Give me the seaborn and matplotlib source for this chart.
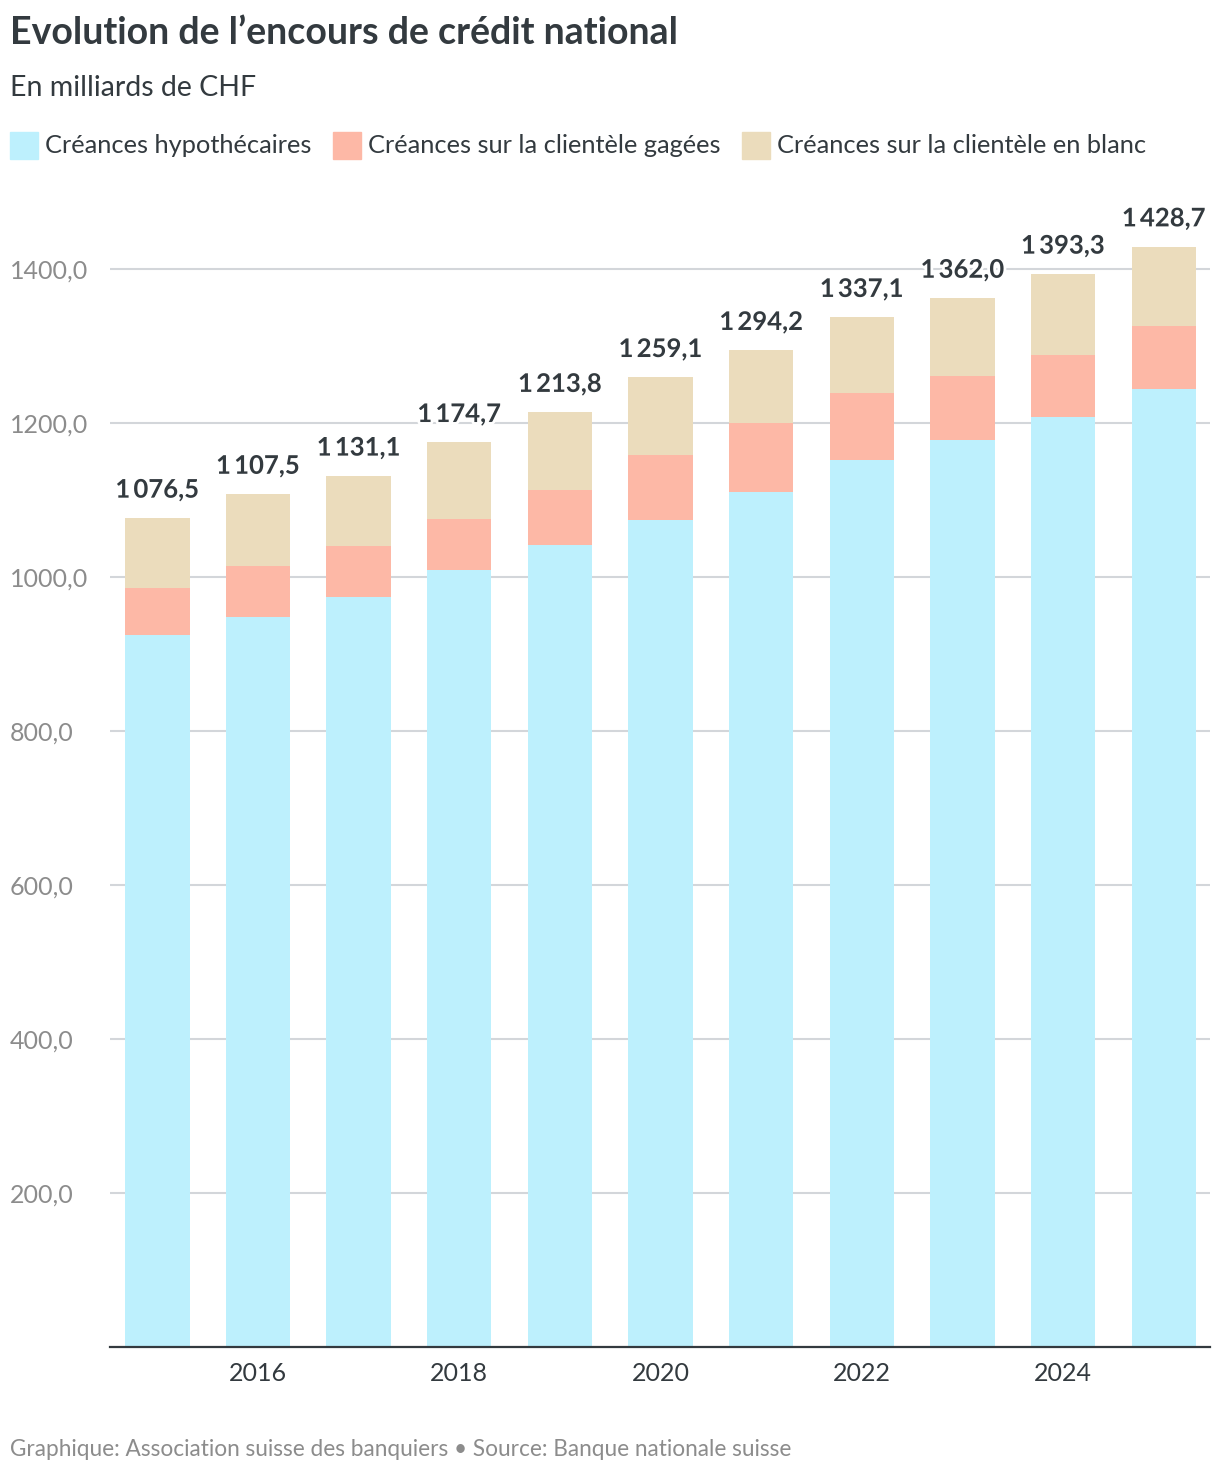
import numpy as np
import pandas as pd
import matplotlib
matplotlib.use('Agg')
import matplotlib.pyplot as plt
import matplotlib.patheffects as pe
from matplotlib.patches import Rectangle
import seaborn as sns

# values (milliards de CHF)
years = ['2015', '2016', '2017', '2018', '2019', '2020', '2021', '2022', '2023', '2024', '2025']
hypothecaires = [924.7, 948.0, 974.0, 1009.0, 1041.6, 1074.0, 1110.4, 1152.0, 1178.0, 1208.0, 1244.0]
gagees = [61.0, 66.3, 66.3, 66.3, 71.4, 84.4, 89.6, 87.0, 83.0, 80.0, 82.0]
totals = [1076.5, 1107.5, 1131.1, 1174.7, 1213.8, 1259.1, 1294.2, 1337.1, 1362.0, 1393.3, 1428.7]

series_names = ['Créances hypothécaires', 'Créances sur la clientèle gagées',
                'Créances sur la clientèle en blanc']
colors = ['#bdf0fd', '#fdb8a6', '#ebdcbc']
yticks = [200, 400, 600, 800, 1000, 1200, 1400]
xtick_years = ['2016', '2018', '2020', '2022', '2024']

TEXT = '#333a3f'
GREY = '#8c8c8c'

df = pd.DataFrame({'year': years, 'hypo': hypothecaires, 'gagees': gagees, 'total': totals})
df['blanc'] = df['total'] - df['hypo'] - df['gagees']
df['hypo_gagees'] = df['hypo'] + df['gagees']

sns.set_theme(style='white')
plt.rcParams['font.family'] = ['Lato', 'DejaVu Sans']

W, H = 1220, 1474
fig = plt.figure(figsize=(W / 100, H / 100), dpi=100)
ax = fig.add_axes([110 / W, 1 - 1347 / H, 1100 / W, (1347 - 207) / H])

# stacked bars drawn as overlapping cumulative heights
for col, c in zip(['total', 'hypo_gagees', 'hypo'], colors[::-1]):
    sns.barplot(data=df, x='year', y=col, order=years, color=c, saturation=1,
                width=0.64, errorbar=None, ax=ax, zorder=2, linewidth=0)

for i, t in enumerate(totals):
    s = f'{t:,.1f}'.replace(',', '\u2009').replace('.', ',')
    ax.annotate(s, (i, t), xytext=(0, 14.5), textcoords='offset points',
                ha='center', va='baseline', fontsize=18.5, fontweight='bold',
                color=TEXT, zorder=4,
                path_effects=[pe.withStroke(linewidth=4, foreground='white')])

ax.set_ylim(0, 1480)
ax.set_xlim(-0.47, 10.46)
ax.set_yticks(yticks)
ax.set_yticklabels([f'{v},0' for v in yticks], ha='left', color=GREY, fontsize=18)
ax.tick_params(axis='y', length=0, pad=72)
ax.set_xticks([years.index(y) for y in xtick_years])
ax.set_xticklabels(xtick_years, color=TEXT, fontsize=18)
ax.tick_params(axis='x', length=0, pad=11)
ax.grid(axis='y', color='#d3d6da', linewidth=1.5, zorder=0)
ax.set_axisbelow(True)
for side in ['top', 'right', 'left']:
    ax.spines[side].set_visible(False)
ax.spines['bottom'].set_color(TEXT)
ax.spines['bottom'].set_linewidth(1.6)
ax.spines['bottom'].set_zorder(5)
ax.set_xlabel('')
ax.set_ylabel('')


def ftext(x, y, s, **kw):
    fig.text(x / W, 1 - y / H, s, **kw)


ftext(10, 44, 'Evolution de l\u2019encours de crédit national', fontsize=27,
      fontweight='bold', color=TEXT, va='baseline')
ftext(10, 96, 'En milliards de CHF', fontsize=20.5, color=TEXT, va='baseline')

legend_x = [10, 333, 742]
for lx, name, c in zip(legend_x, series_names, colors):
    fig.patches.append(Rectangle((lx / W, 1 - 159 / H), 28 / W, 27 / H,
                                 transform=fig.transFigure, color=c))
    ftext(lx + 35, 153, name, fontsize=18.3, color=TEXT, va='baseline')

ftext(10, 1456, 'Graphique: Association suisse des banquiers \u2022 Source: Banque nationale suisse',
      fontsize=16.3, color=GREY, va='baseline')

fig.savefig('out.png', dpi=100, facecolor='white')
